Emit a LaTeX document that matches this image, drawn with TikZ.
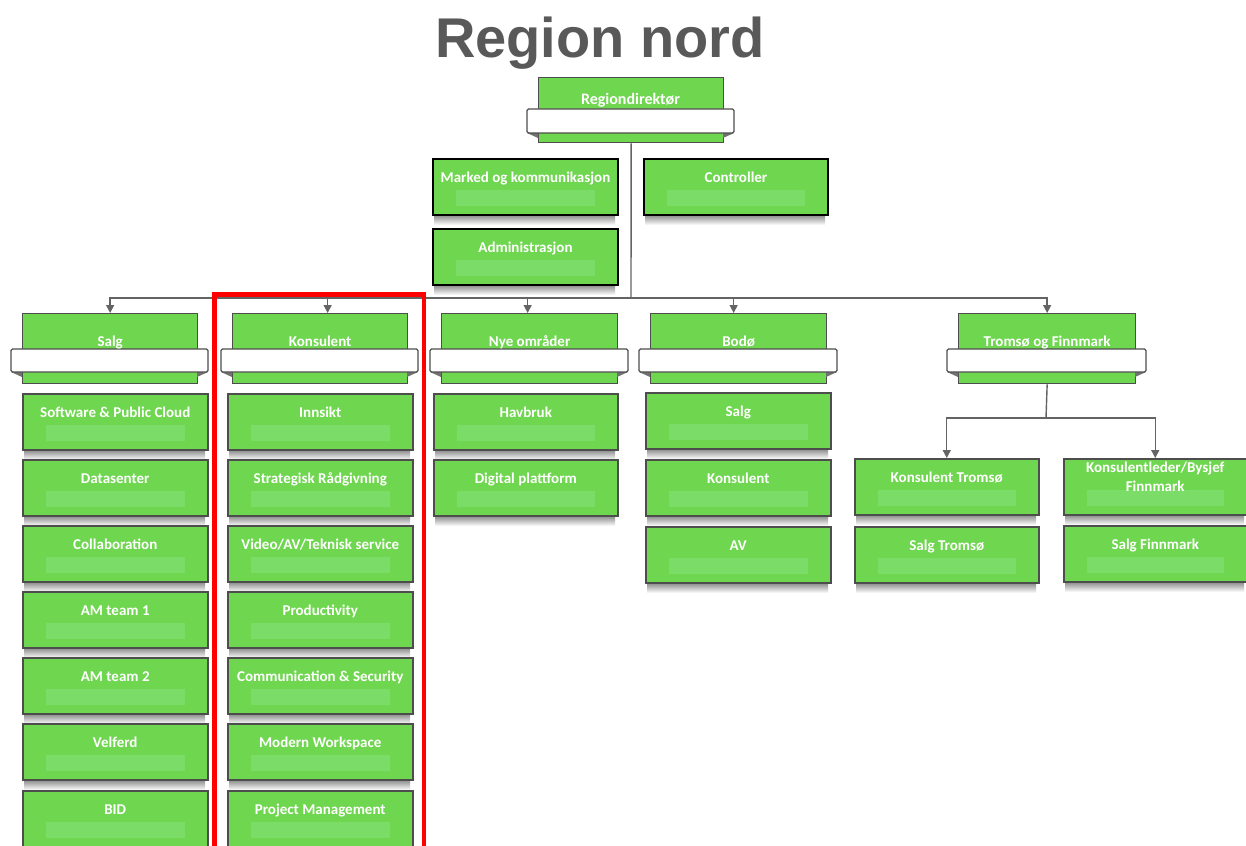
\documentclass[tikz,border=0pt]{standalone}
\usepackage{fontspec}
\setmainfont{Carlito}
\newfontfamily\titlefont{Liberation Sans}
\usetikzlibrary{arrows.meta}
\definecolor{boxgreen}{RGB}{111,214,79}
\definecolor{stripgreen}{RGB}{124,220,104}
\definecolor{edgegray}{RGB}{77,77,77}
\definecolor{conngray}{RGB}{100,100,100}
\definecolor{titlegray}{RGB}{89,89,89}
\tikzset{
  ubx/.style={draw=edgegray, line width=1.5pt, fill=boxgreen, inner sep=0pt},
  kbx/.style={draw=black, line width=2pt, fill=boxgreen, inner sep=0pt},
  gbx/.style={draw=edgegray, line width=1.3pt, fill=boxgreen, inner sep=0pt},
  bannerbox/.style={draw=edgegray, line width=1.3pt, fill=white, rounded corners=1.5pt},
  foldtri/.style={fill=edgegray!80},
  lbl/.style={text=white, font=\fontsize{15}{18.5}\selectfont\bfseries, inner sep=0pt, align=center},
  stripfill/.style={fill=stripgreen},
  shadowband/.style={top color=black!50, bottom color=white, draw=none},
  conn/.style={draw=conngray, line width=1.4pt},
  arw/.style={conn, -{Triangle[length=8pt,width=8pt]}},
  redframe/.style={draw=red, line width=4.5pt},
}
% #1 style, #2 name, #3 left x, #4 top y, #5 right x, #6 text
\newcommand\ubox[6][ubx]{%
  \shade[shadowband] (#3+2,#4+56) rectangle (#5-2,#4+67);
  \node[#1, anchor=north west, minimum width={#5-#3}, minimum height=56] (#2) at (#3,#4) {};
  \fill[stripfill] ([xshift=24pt,yshift=-32pt]#2.north west) rectangle ([xshift=-24pt,yshift=-48pt]#2.north east);
  \node[lbl, anchor=base] at ([yshift=-24.5pt]#2.north) {#6};
}
% #1 name, #2 left x, #3 right x, #4 text
\newcommand\bbox[4]{%
  \node[gbx, anchor=north west, minimum width={#3-#2}, minimum height=70] (#1) at (#2,313) {};
  \fill[foldtri] (#2-11,372) -- (#2,372) -- (#2,377) -- cycle;
  \fill[foldtri] (#3+11,372) -- (#3,372) -- (#3,377) -- cycle;
  \draw[bannerbox] (#2-11,349) rectangle (#3+11,372);
  \node[lbl, anchor=base] at ([yshift=-33pt]#1.north) {#4};
}
\begin{document}
\begin{tikzpicture}[x=1pt,y=-1pt]
\clip (0,0) rectangle (1246,845);
\fill[white] (0,0) rectangle (1246,845);

% title
\node[font=\titlefont\fontsize{56}{60}\selectfont\bfseries, text=titlegray, anchor=base, inner sep=0pt] (title) at (600,58) {Region nord};

% Regiondirektør
\node[gbx, anchor=north west, minimum width=185, minimum height=65] (rd) at (538,77) {};
\fill[foldtri] (527,133) -- (538,133) -- (538,138) -- cycle;
\fill[foldtri] (734,133) -- (723,133) -- (723,138) -- cycle;
\draw[bannerbox] (527,109) rectangle (734,133);
\node[lbl, anchor=base, font=\fontsize{16}{19}\selectfont\bfseries] at (630.5,104.5) {Regiondirektør};

% connectors (drawn first, behind boxes)
\coordinate (bus) at (631,298);
\draw[conn] (rd.south) -- (bus);

% staff boxes
\ubox[kbx]{mk}{432}{158}{617}{Marked og kommunikasjon}
\ubox[kbx]{ctl}{643}{158}{827}{Controller}
\ubox[kbx]{adm}{432}{228}{617}{Administrasjon}

% level 2
\bbox{salg}{22}{197}{Salg}
\bbox{kons}{232}{407}{Konsulent}
\bbox{nye}{441}{617}{Nye områder}
\bbox{bodo}{650}{826}{Bodø}
\bbox{tf}{958}{1135}{Tromsø og Finnmark}

\draw[arw] (bus) -| (salg.north);
\draw[arw] (bus) -| ([xshift=7.5pt]kons.north);
\draw[arw] (bus) -| ([xshift=-2pt]nye.north);
\draw[arw] (bus) -| ([xshift=-5pt]bodo.north);
\draw[arw] (bus) -| (tf.north);

% Salg column
\ubox{s1}{22}{393}{207}{Software \& Public Cloud}
\ubox{s2}{22}{459}{207}{Datasenter}
\ubox{s3}{22}{525}{207}{Collaboration}
\ubox{s4}{22}{591}{207}{AM team 1}
\ubox{s5}{22}{657}{207}{AM team 2}
\ubox{s6}{22}{723}{207}{Velferd}
\ubox{s7}{22}{790}{207}{BID}

% Konsulent column
\ubox{k1}{227}{393}{412}{Innsikt}
\ubox{k2}{227}{459}{412}{Strategisk Rådgivning}
\ubox{k3}{227}{525}{412}{Video/AV/Teknisk service}
\ubox{k4}{227}{591}{412}{Productivity}
\ubox{k5}{227}{657}{412}{Communication \& Security}
\ubox{k6}{227}{723}{412}{Modern Workspace}
\ubox{k7}{227}{790}{412}{Project Management}

% Nye områder column
\ubox{n1}{433}{393}{617}{Havbruk}
\ubox{n2}{433}{459}{617}{Digital plattform}

% Bodø column
\ubox{b1}{645}{392}{830}{Salg}
\ubox{b2}{645}{459}{830}{Konsulent}
\ubox{b3}{645}{526}{830}{AV}

% Tromsø og Finnmark
\coordinate (tsplit) at (1046,418);
\draw[conn] (tf.south) -- (tsplit);
\ubox{kt}{854}{458}{1038}{Konsulent Tromsø}
\ubox{st}{854}{526}{1038}{Salg Tromsø}
\ubox{kf}{1063}{458}{1246}{}
\node[lbl] (kftext) at ([yshift=-19pt]kf.north) {Konsulentleder/Bysjef\\Finnmark};
\ubox{sf}{1063}{525}{1246}{Salg Finnmark}
\draw[arw] (tsplit) -| (kt.north);
\draw[arw] (tsplit) -| (kf.north);

% red highlight frame
\draw[redframe] (214.5,294.5) rectangle (424,860);
\end{tikzpicture}
\end{document}
